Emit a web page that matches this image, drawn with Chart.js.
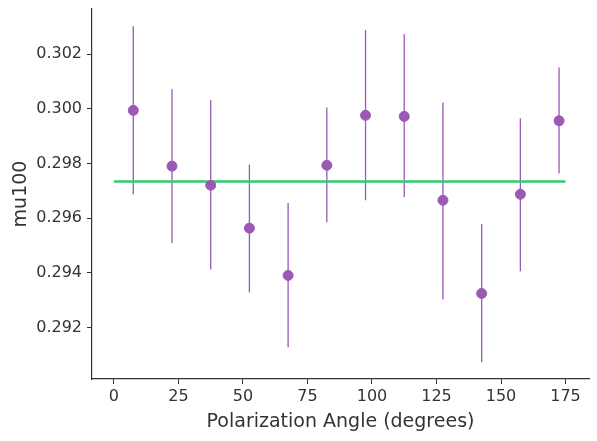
<!DOCTYPE html>
<html lang="en">
<head>
  <meta charset="utf-8" />
  <title>mu100 vs polarization angle</title>
  <script src="https://cdn.jsdelivr.net/npm/chart.js@4.4.0/dist/chart.umd.min.js"></script>
  <style>
    html, body { margin: 0; padding: 0; background: #ffffff; }
    #chart { display: block; }
  </style>
</head>
<body>
  <canvas id="chart" width="597" height="441"></canvas>

  <script>
    // polarization angle bin centers (degrees)
    const angles = [7.5, 22.5, 37.5, 52.5, 67.5, 82.5, 97.5, 112.5, 127.5, 142.5, 157.5, 172.5];
    // measured mu100 per bin
    const mu100 = [0.29994, 0.29790, 0.29720, 0.29563, 0.29390, 0.29793, 0.29976, 0.29972, 0.29665, 0.29324, 0.29687, 0.29956];
    // error bar ends
    const errHigh = [0.30302, 0.30071, 0.30032, 0.29796, 0.29655, 0.30005, 0.30288, 0.30273, 0.30023, 0.29578, 0.29965, 0.30151];
    const errLow = [0.29687, 0.29509, 0.29412, 0.29328, 0.29127, 0.29585, 0.29665, 0.29676, 0.29302, 0.29072, 0.29405, 0.29763];
    // fitted constant
    const fitX = [0, 175];
    const fitY = [0.29734, 0.29734];

    const xTicks = [0, 25, 50, 75, 100, 125, 150, 175];
    const yTicks = [0.292, 0.294, 0.296, 0.298, 0.300, 0.302];

    const purple = "#9b59b6";
    const green = "#2ecc71";
    const ink = "#333333";

    // vertical error bars, drawn under the line and the markers
    const errorBars = {
      id: "errorBars",
      beforeDatasetsDraw(chart) {
        const ctx = chart.ctx;
        const xs = chart.scales.x;
        const ys = chart.scales.y;
        ctx.save();
        ctx.strokeStyle = purple;
        ctx.lineWidth = 1.3;
        for (let i = 0; i < angles.length; i++) {
          const px = xs.getPixelForValue(angles[i]);
          ctx.beginPath();
          ctx.moveTo(px, ys.getPixelForValue(errHigh[i]));
          ctx.lineTo(px, ys.getPixelForValue(errLow[i]));
          ctx.stroke();
        }
        ctx.restore();
      }
    };

    const tickFont = { family: "DejaVu Sans", size: 16 };
    const titleFont = { family: "DejaVu Sans", size: 19 };

    new Chart(document.getElementById("chart"), {
      type: "scatter",
      plugins: [errorBars],
      data: {
        datasets: [
          {
            label: "mu100",
            data: angles.map((a, i) => ({ x: a, y: mu100[i] })),
            backgroundColor: purple,
            borderColor: purple,
            pointRadius: 5,
            pointHoverRadius: 5,
            order: 1
          },
          {
            type: "line",
            label: "fit",
            data: fitX.map((a, i) => ({ x: a, y: fitY[i] })),
            borderColor: green,
            borderWidth: 2.6,
            pointRadius: 0,
            fill: false,
            order: 2
          }
        ]
      },
      options: {
        responsive: false,
        animation: false,
        layout: { padding: { left: 0, top: 9, right: 8, bottom: 0 } },
        plugins: {
          legend: { display: false },
          tooltip: { enabled: false }
        },
        scales: {
          x: {
            type: "linear",
            min: -8.5,
            max: 184.1,
            afterBuildTicks: (axis) => { axis.ticks = xTicks.map(v => ({ value: v })); },
            afterFit: (axis) => {
              axis.height = 62;
              axis.paddingLeft = 0;
              axis.paddingRight = 0;
            },
            border: { color: ink, width: 1.2 },
            grid: { drawOnChartArea: false, drawTicks: true, tickLength: 5, color: ink },
            ticks: { color: ink, font: tickFont, padding: 3, maxRotation: 0 },
            title: { display: true, text: "Polarization Angle (degrees)", color: ink, font: titleFont, padding: { top: 0, bottom: 8 } }
          },
          y: {
            type: "linear",
            min: 0.29011,
            max: 0.30365,
            afterBuildTicks: (axis) => { axis.ticks = yTicks.map(v => ({ value: v })); },
            afterFit: (axis) => {
              axis.width = 92;
              axis.paddingTop = 0;
              axis.paddingBottom = 0;
            },
            border: { color: ink, width: 1.2 },
            grid: { drawOnChartArea: false, drawTicks: true, tickLength: 5, color: ink },
            ticks: {
              color: ink,
              font: tickFont,
              padding: 5,
              callback: (v) => v.toFixed(3)
            },
            title: { display: true, text: "mu100", color: ink, font: titleFont, padding: { top: 10, bottom: 0 } }
          }
        }
      }
    });
  </script>
</body>
</html>
